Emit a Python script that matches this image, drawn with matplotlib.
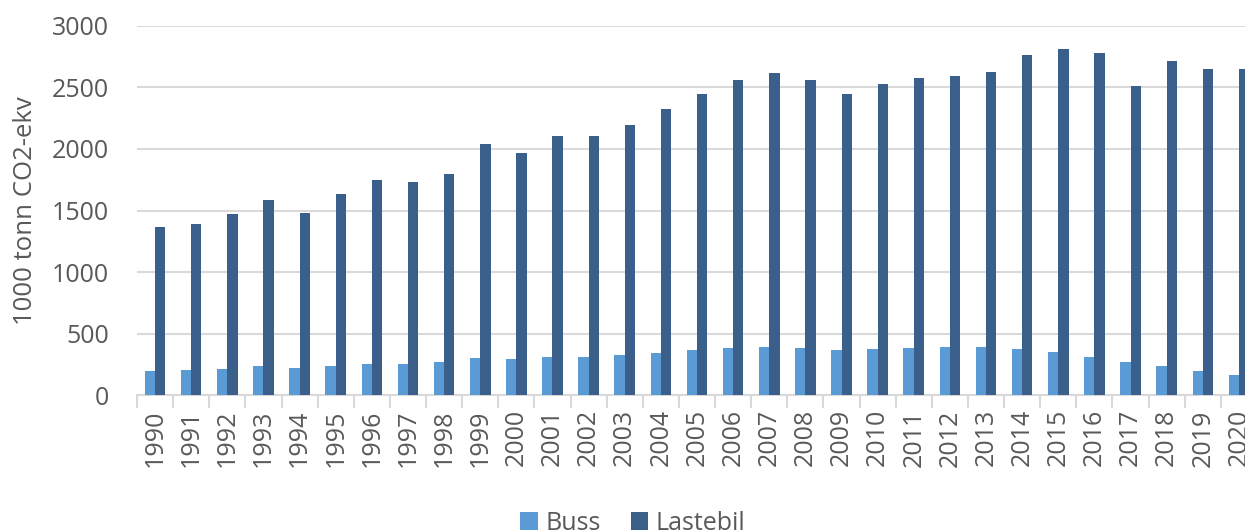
import matplotlib
matplotlib.use('Agg')
import matplotlib.pyplot as plt
import numpy as np

# Emissions per year (1000 tonn CO2-ekv)
years = [str(y) for y in range(1990, 2021)]
buss = [198, 204, 215, 234, 220, 239, 256, 256, 267, 305,
        294, 314, 314, 325, 347, 366, 383, 388, 383, 366,
        377, 383, 388, 391, 372, 350, 308, 270, 237, 201, 168]
lastebil = [1370, 1387, 1470, 1588, 1481, 1637, 1750, 1731, 1794, 2042,
            1968, 2103, 2108, 2193, 2320, 2449, 2562, 2614, 2557, 2449,
            2526, 2579, 2595, 2623, 2763, 2813, 2777, 2513, 2713, 2645, 2645]

plt.rcParams['font.family'] = ['Open Sans', 'DejaVu Sans']
text_color = '#595959'
grid_color = '#D9D9D9'

fig = plt.figure(figsize=(12.45, 5.31), dpi=100)
# Axes runs slightly past the right edge, so the last year is clipped
ax = fig.add_axes([137 / 1245, 1 - 395.3 / 531, 1120 / 1245, 369.6 / 531])

x = np.arange(len(years))
w = 0.285
ax.bar(x - w / 2, buss, w, color='#5B9BD5', label='Buss', zorder=3)
ax.bar(x + w / 2, lastebil, w, color='#3A5F8A', label='Lastebil', zorder=3)

ax.set_xlim(-0.5, len(years) - 0.5)
ax.set_ylim(0, 3000)
ax.set_yticks(np.arange(0, 3001, 500))
ax.yaxis.grid(True, color=grid_color, linewidth=1.5, zorder=0)

# Year labels in the middle, tick marks between the groups
ax.set_xticks(x)
ax.set_xticklabels(years, rotation=90)
ax.set_xticks(np.arange(-0.5, len(years), 1), minor=True)
ax.tick_params(axis='x', which='major', length=0, pad=10,
               labelsize=18, labelcolor=text_color)
ax.tick_params(axis='x', which='minor', length=9, width=1.5, color=grid_color)
ax.tick_params(axis='y', length=0, pad=20, labelsize=18, labelcolor=text_color)

for side in ['top', 'right', 'left']:
    ax.spines[side].set_visible(False)
ax.spines['bottom'].set_color(grid_color)
ax.spines['bottom'].set_linewidth(1.5)

ax.set_ylabel('1000 tonn CO2-ekv', fontsize=18.5, color=text_color, labelpad=10)

fig.legend(loc='center', bbox_to_anchor=(633 / 1245, 0.015), ncol=2,
           frameon=False, fontsize=18, labelcolor=text_color,
           handlelength=0.7, handleheight=0.7, handletextpad=0.3,
           columnspacing=1.2)

fig.savefig('out.png', dpi=100)
